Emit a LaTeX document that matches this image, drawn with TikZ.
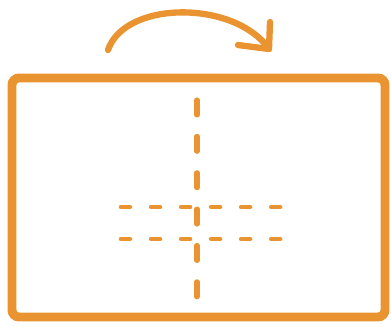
\documentclass[tikz,border=0pt]{standalone}
\usepackage{xcolor}
\usepackage{tikz}
\usetikzlibrary{arrows.meta, positioning}
\definecolor{foldorange}{RGB}{233,148,48}

\begin{document}
\begin{tikzpicture}[x=0.02cm, y=-0.02cm,
  frame/.style={draw=foldorange, line width=5.1pt, rounded corners=4pt},
  turn/.style={draw=foldorange, line width=3.6pt, line cap=round, line join=round},
  foldv/.style={draw=foldorange, line width=2.9pt, line cap=round, dash pattern=on 8.5pt off 12.2pt},
  foldh/.style={draw=foldorange, line width=2.6pt, line cap=round, dash pattern=on 5.1pt off 12pt}]
\useasboundingbox (0,0) rectangle (391,326);

% Sheet outline
\coordinate (nw) at (12,78);
\coordinate (se) at (385,317);
\draw[frame] (nw) rectangle (se);

% Turn-over arrow
\coordinate (start) at (108,50);
\coordinate (tip) at (269,49);
\coordinate (barb1) at (238,45);
\coordinate (barb2) at (270,22);
\draw[turn] (start) .. controls (125,0) and (235,0) .. (tip);
\draw[turn] (barb1) -- (tip) -- (barb2);

% Fold lines
\coordinate (vtop) at (197,100);
\coordinate (vbot) at (197,300);
\draw[foldv] (vtop) -- (vbot);

\coordinate (h1l) at (121,207);
\coordinate (h1r) at (284,207);
\draw[foldh] (h1l) -- (h1r);

\coordinate (h2l) at (121,239);
\coordinate (h2r) at (284,239);
\draw[foldh] (h2l) -- (h2r);
\end{tikzpicture}
\end{document}
